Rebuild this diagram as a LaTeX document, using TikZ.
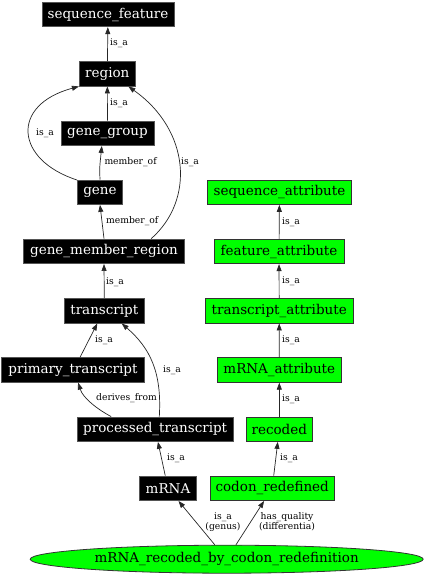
\documentclass[tikz,border=0pt]{standalone}
\usepackage{fontspec}
\setmainfont{DejaVu Serif}
\usetikzlibrary{arrows.meta,shapes.geometric}
\definecolor{gvgreen}{HTML}{00FF00}
\definecolor{gvborder}{HTML}{333333}
\definecolor{blkborder}{HTML}{555555}
\tikzset{
  nodefont/.style={font=\fontsize{13.5}{15}\selectfont},
  blk/.style={nodefont, draw=blkborder, fill=black, text=white, inner sep=0pt, minimum height=24.5pt, line width=0.8pt},
  grn/.style={nodefont, draw=gvborder, fill=gvgreen, text=black, inner sep=0pt, minimum height=24.5pt, line width=0.8pt},
  ell/.style={nodefont, ellipse, draw=gvborder, fill=gvgreen, text=black, inner sep=0pt, minimum width=393pt, minimum height=28pt, line width=0.8pt},
  edge/.style={draw=black!85, line width=0.7pt, -{Triangle[length=7pt,width=5pt]}},
  lbl/.style={font=\fontsize{9.2}{10}\selectfont, inner sep=0pt, anchor=west},
  lblc/.style={font=\fontsize{9.2}{10}\selectfont, inner sep=0pt, align=center},
}
\begin{document}
\begin{tikzpicture}[x=1pt,y=-1pt]
\useasboundingbox (0,0) rectangle (426,576);
% left column
\node[blk, minimum width=132pt] (sf) at (108,14.5) {sequence\_feature};
\node[blk, minimum width=56pt] (region) at (107.3,73.8) {region};
\node[blk, minimum width=93pt] (gg) at (107.5,133.3) {gene\_group};
\node[blk, minimum width=45pt] (gene) at (100,192.2) {gene};
\node[blk, minimum width=161pt] (gmr) at (104,251.3) {gene\_member\_region};
\node[blk, minimum width=80pt] (tr) at (104.3,310.8) {transcript};
\node[blk, minimum width=142.6pt] (ptr) at (73,370) {primary\_transcript};
\node[blk, minimum width=156.3pt] (proc) at (155.2,429.2) {processed\_transcript};
\node[blk, minimum width=57.4pt] (mrna) at (168,488.3) {mRNA};
% right column
\node[grn, minimum width=144.4pt] (sa) at (279.5,192.2) {sequence\_attribute};
\node[grn, minimum width=130pt] (fa) at (279,251.5) {feature\_attribute};
\node[grn, minimum width=148.3pt] (ta) at (279.2,310.8) {transcript\_attribute};
\node[grn, minimum width=124.7pt] (ma) at (279.3,370) {mRNA\_attribute};
\node[grn, minimum width=66.7pt] (rec) at (279.3,429.2) {recoded};
\node[grn, minimum width=124.3pt] (cr) at (272.2,488.3) {codon\_redefined};
% bottom ellipse
\node[ell] (main) at (226.7,559.2) {mRNA\_recoded\_by\_codon\_redefinition};

% edges
\draw[edge] (region) -- (sf);
\node[lbl] (l1) at (110,43.5) {is\_a};
\draw[edge] (gg) -- (region);
\node[lbl] (l2) at (110,103) {is\_a};
\draw[edge] (gene.152) .. controls (15,160) and (10,105) .. (region.204);
\node[lbl] (l3) at (36,133) {is\_a};
\draw[edge] (gene.north) .. controls (99.5,168) .. (gg.-114);
\node[lbl] (l4) at (104.3,162) {member\_of};
\draw[edge] (gmr.north) -- (gene.south);
\node[lbl] (l5) at (106,221.3) {member\_of};
\draw[edge] (gmr.15) .. controls (195,200) and (190,130) .. (region.-31);
\node[lbl] (l6) at (181,162) {is\_a};
\draw[edge] (tr.north) -- (gmr.south);
\node[lbl] (l7) at (106,281.7) {is\_a};
\draw[edge] (ptr.61) -- (tr.-119);
\node[lbl] (l8) at (95,340) {is\_a};
\draw[edge] (proc.72) .. controls (162,372) and (150,348) .. (tr.-36);
\node[lbl] (l9) at (163,370) {is\_a};
\draw[edge] (proc.164) .. controls (97,409) and (83,398) .. (ptr.-68);
\node[lbl] (l10) at (96,398.5) {derives\_from};
\draw[edge] (mrna) -- (proc);
\node[lbl] (l11) at (167,458.5) {is\_a};
\draw[edge] (cr) -- (rec);
\node[lbl] (l12) at (280,458.5) {is\_a};
\draw[edge] (rec) -- (ma);
\node[lbl] (l13) at (282,399) {is\_a};
\draw[edge] (ma) -- (ta);
\node[lbl] (l14) at (282,340) {is\_a};
\draw[edge] (ta) -- (fa);
\node[lbl] (l15) at (282,281) {is\_a};
\draw[edge] (fa) -- (sa);
\node[lbl] (l16) at (282,222) {is\_a};
\draw[edge] (main) -- (mrna);
\node[lblc] (l17) at (223,522) {is\_a\\(genus)};
\draw[edge] (main) -- (cr);
\node[lblc] (l18) at (287,522) {has\_quality\\(differentia)};
\end{tikzpicture}
\end{document}
